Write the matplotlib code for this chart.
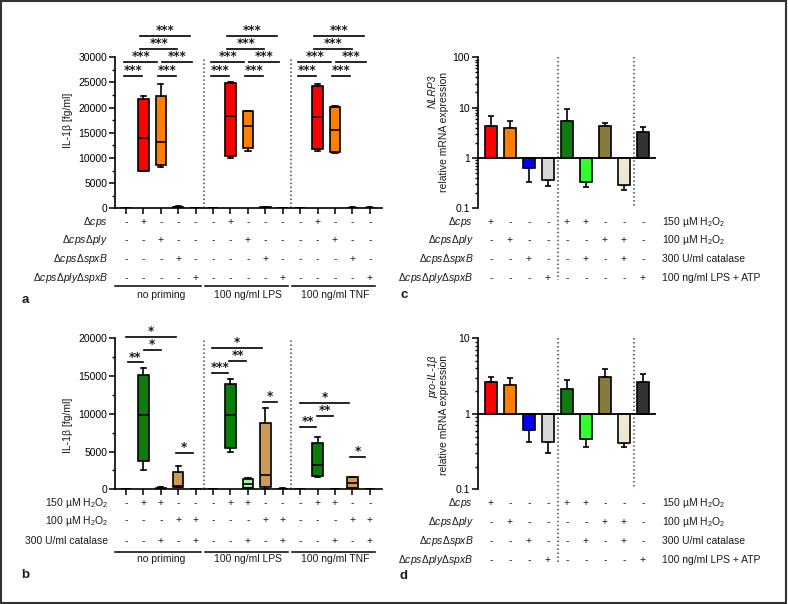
import matplotlib
matplotlib.use('Agg')
import matplotlib.pyplot as plt
from matplotlib import transforms
from matplotlib.patches import Rectangle

plt.rcParams['font.family'] = ['Liberation Sans', 'DejaVu Sans']
plt.rcParams['mathtext.fontset'] = 'custom'
plt.rcParams['mathtext.rm'] = 'Liberation Sans'
plt.rcParams['mathtext.it'] = 'Liberation Sans:italic'
plt.rcParams['font.size'] = 7.5
plt.rcParams['text.color'] = '#1a1a1a'

W, H = 788, 604
FS = 7.5

# ---- panel a: IL-1beta, strains x priming (box plots) ----
a_q1 = [0, 7500, 8700, 100, 0, 0, 10400, 12000, 50, 0, 0, 11800, 11100, 50, 50]
a_med = [0, 13900, 13100, 200, 0, 0, 18300, 16400, 100, 0, 0, 18200, 15600, 100, 100]
a_q3 = [100, 21800, 22400, 350, 100, 50, 24900, 19300, 200, 50, 50, 24200, 20200, 150, 150]
a_lo = [0, 7500, 8200, 0, 0, 0, 9900, 11400, 0, 0, 0, 11400, 10900, 0, 0]
a_hi = [150, 22300, 24700, 500, 150, 100, 25100, 19400, 300, 100, 100, 24600, 20400, 200, 200]
a_colors = ['white', '#FF0000', '#FF8000', 'black', 'white'] * 3
a_rows = ['-+---' * 3, '--+--' * 3, '---+-' * 3, '----+' * 3]
a_row_labels = [r'$\Delta\mathit{cps}$', r'$\Delta\mathit{cps}\Delta\mathit{ply}$',
                r'$\Delta\mathit{cps}\Delta\mathit{spxB}$',
                r'$\Delta\mathit{cps}\Delta\mathit{ply}\Delta\mathit{spxB}$']
groups = ['no priming', '100 ng/ml LPS', '100 ng/ml TNF']
# significance bars (start, end, height, label), same in each priming group
a_sig = [(-0.1, 0.9, 26350, '***'), (1.85, 2.85, 26350, '***'),
         (-0.1, 1.8, 29000, '***'), (2.05, 3.8, 29000, '***'),
         (0.8, 2.95, 31650, '***'), (0.8, 3.65, 34300, '***')]

# ---- panel b: IL-1beta, H2O2 / catalase ----
b_q1 = [0, 3700, 50, 350, 0, 0, 5500, 130, 260, 0, 0, 1760, 0, 130, 0]
b_med = [0, 9900, 100, 450, 0, 0, 9800, 700, 1850, 0, 0, 3180, 0, 790, 0]
b_q3 = [80, 15100, 200, 2330, 50, 50, 14000, 1320, 8740, 80, 80, 6170, 50, 1590, 50]
b_lo = [0, 2500, 0, 300, 0, 0, 4900, 130, 0, 0, 0, 1590, 0, 130, 0]
b_hi = [100, 16100, 300, 3090, 80, 80, 14600, 1460, 10730, 120, 100, 6930, 80, 1650, 80]
b_colors = ['white', '#0A7D0A', '#A8F0A8', '#CF9A58', 'white'] * 3
b_rows = ['-++--' * 3, '---++' * 3, '--+-+' * 3]
b_row_labels = [r'150 µM H$_2$O$_2$', r'100 µM H$_2$O$_2$', '300 U/ml catalase']
b_sig = [(0.1, 0.96, 16800, '**'), (1.03, 1.99, 18450, '*'), (0.0, 2.87, 20150, '*'),
         (2.87, 3.82, 4770, '*'),
         (4.93, 5.87, 15360, '***'), (5.93, 6.88, 17000, '**'), (4.93, 7.82, 18760, '*'),
         (7.88, 8.7, 11520, '*'),
         (9.98, 10.9, 8210, '**'), (10.98, 11.89, 9710, '**'), (9.98, 12.81, 11390, '*'),
         (12.85, 13.75, 4240, '*')]

# ---- panels c, d: relative mRNA expression ----
bar_colors = ['#FF0000', '#FF8000', '#0000FF', '#D8D8D8', '#127A12', '#30FF30',
              '#877B3C', '#EFE9D3', '#333333']
c_vals = [4.4, 4.0, 0.64, 0.36, 5.4, 0.33, 4.3, 0.29, 3.3]
c_err_end = [6.9, 5.5, 0.34, 0.28, 9.4, 0.26, 4.96, 0.235, 4.1]
d_vals = [2.6, 2.44, 0.615, 0.42, 2.14, 0.47, 3.11, 0.41, 2.6]
d_err_end = [3.1, 2.96, 0.42, 0.30, 2.81, 0.36, 3.9, 0.36, 3.4]
cd_rows = ['+---++---', '-+----++-', '--+--+-+-', '---+----+']
cd_left_labels = a_row_labels
cd_right_labels = [r'150 µM H$_2$O$_2$', r'100 µM H$_2$O$_2$', '300 U/ml catalase',
                   '100 ng/ml LPS + ATP']

fig = plt.figure(figsize=(W / 100, H / 100), dpi=100)


def px_axes(left, right, top, bottom):
    return fig.add_axes([left / W, 1 - bottom / H, (right - left) / W, (bottom - top) / H])


def fy(py):
    return 1 - py / H


def style_axes(ax):
    for s in ['top', 'right']:
        ax.spines[s].set_visible(False)
    for s in ['left', 'bottom']:
        ax.spines[s].set_linewidth(1.2)
    ax.tick_params(which='major', length=4, width=1.1, pad=1.5, labelsize=FS)
    ax.tick_params(which='minor', length=2.5, width=1)


def box_panel(ax, q1, med, q3, lo, hi, colors, ymax, step):
    stats = [dict(q1=a, med=m, q3=b, whislo=l, whishi=h, fliers=[])
             for a, m, b, l, h in zip(q1, med, q3, lo, hi)]
    bp = ax.bxp(stats, positions=range(len(stats)), widths=0.6, capwidths=0.3,
                patch_artist=True, showfliers=False, manage_ticks=False,
                boxprops=dict(linewidth=1.2, edgecolor='black'),
                medianprops=dict(color='black', linewidth=1.2),
                whiskerprops=dict(color='black', linewidth=1.2),
                capprops=dict(color='black', linewidth=1.2))
    for patch, c in zip(bp['boxes'], colors):
        patch.set_facecolor(c)
    ax.set_xlim(-0.63, 14.7)
    ax.set_ylim(0, ymax)
    ax.set_yticks(range(0, ymax + 1, step))
    ax.set_yticks(range(0, ymax + 1, step // 2), minor=True)
    ax.set_xticks(range(15))
    ax.set_xticklabels([])
    ax.tick_params(axis='x', length=3)
    style_axes(ax)
    for xv in [4.5, 9.5]:
        ax.axvline(xv, color='#444444', linestyle=(0, (1, 1.6)), linewidth=1.1)


def sig_bars(ax, sig):
    for x1, x2, y, lab in sig:
        ax.plot([x1, x2], [y, y], color='black', linewidth=1.2, clip_on=False)
        ax.annotate(lab, ((x1 + x2) / 2, y), xytext=(0, 1.4), textcoords='offset points',
                    ha='center', va='baseline', fontsize=8.5, family='DejaVu Sans',
                    fontweight='bold', annotation_clip=False)


def table(ax, rows, labels, ys, label_x):
    tr = transforms.blended_transform_factory(ax.transData, fig.transFigure)
    for row, lab, y in zip(rows, labels, ys):
        fig.text(label_x / W, fy(y), lab, ha='right', va='center', fontsize=FS)
        for i, s in enumerate(row):
            ax.text(i, fy(y), s, transform=tr, ha='center', va='center', fontsize=FS)
    return tr


def group_lines(ax, y_line, y_text):
    tr = transforms.blended_transform_factory(ax.transData, fig.transFigure)
    for k, name in enumerate(groups):
        x1 = -0.63 if k == 0 else 5 * k - 0.45
        ax.plot([x1, 5 * k + 4.3], [fy(y_line)] * 2, transform=tr, color='black',
                linewidth=1.1, clip_on=False)
        ax.text(5 * k + 2, fy(y_text), name, transform=tr, ha='center', va='center',
                fontsize=FS)


# panel a
ax_a = px_axes(115, 382, 57.3, 208.3)
box_panel(ax_a, a_q1, a_med, a_q3, a_lo, a_hi, a_colors, 30000, 5000)
for k in range(3):
    sig_bars(ax_a, [(x1 + 5 * k, x2 + 5 * k, y, lab) for x1, x2, y, lab in a_sig])
table(ax_a, a_rows, a_row_labels, [221.7, 240.3, 259, 277.7], 108)
group_lines(ax_a, 286, 295)
fig.text(68 / W, fy(120), 'IL-1β [fg/ml]', rotation=90, ha='center', va='center', fontsize=FS)

# panel b
ax_b = px_axes(115, 382, 338.3, 489.3)
box_panel(ax_b, b_q1, b_med, b_q3, b_lo, b_hi, b_colors, 20000, 5000)
sig_bars(ax_b, b_sig)
table(ax_b, b_rows, b_row_labels, [503.3, 520.5, 541], 108)
group_lines(ax_b, 551.7, 559.5)
fig.text(68 / W, fy(425), 'IL-1β [fg/ml]', rotation=90, ha='center', va='center', fontsize=FS)


def bar_panel(ax, vals, err_end, ymin, ymax, top_px, bottom_px, rows_y):
    x = list(range(len(vals)))
    heights = [v - 1 for v in vals]
    ax.set_yscale('log')
    ax.bar(x, heights, bottom=1, width=0.62, color=bar_colors, edgecolor='black',
           linewidth=1.2, zorder=3)
    lower = [v - e if v < 1 else 0 for v, e in zip(vals, err_end)]
    upper = [e - v if v >= 1 else 0 for v, e in zip(vals, err_end)]
    ax.errorbar(x, vals, yerr=[lower, upper], fmt='none', ecolor='black',
                elinewidth=1.2, capsize=2.5, capthick=1.2, zorder=2)
    ax.axhline(1, color='black', linewidth=1.3, zorder=4)
    ax.set_xlim(-0.7, 8.7)
    ax.set_ylim(ymin, ymax)
    ticks = [t for t in [0.1, 1, 10, 100] if ymin <= t <= ymax]
    ax.set_yticks(ticks)
    ax.set_yticklabels([('%g' % t) for t in ticks])
    ax.set_xticks([])
    ax.spines['bottom'].set_visible(False)
    style_axes(ax)
    tr = table(ax, cd_rows, cd_left_labels, rows_y, 473.3)
    for lab, y in zip(cd_right_labels, rows_y):
        fig.text(661.7 / W, fy(y), lab, ha='left', va='center', fontsize=FS)
    ax.plot([3.5, 3.5], [fy(top_px), fy(rows_y[-1] + 2)], transform=tr, color='#444444',
            linestyle=(0, (1, 1.6)), linewidth=1.1, clip_on=False)
    ax.plot([7.5, 7.5], [fy(top_px), fy(bottom_px)], transform=tr, color='#444444',
            linestyle=(0, (1, 1.6)), linewidth=1.1, clip_on=False)


ax_c = px_axes(477.7, 656.3, 57.3, 208.3)
bar_panel(ax_c, c_vals, c_err_end, 0.1, 100, 57.3, 208.3, [221.7, 240, 259, 278.3])
fig.text(433 / W, fy(91), 'NLRP3', style='italic', rotation=90, ha='center', va='center')
fig.text(444 / W, fy(132), 'relative mRNA expression', rotation=90, ha='center', va='center')

ax_d = px_axes(477.7, 656.3, 338.3, 489.3)
bar_panel(ax_d, d_vals, d_err_end, 0.1, 10, 338.3, 489.3, [503.3, 521.7, 540.7, 560])
fig.text(433 / W, fy(377), 'pro-IL-1β', style='italic', rotation=90, ha='center', va='center')
fig.text(444 / W, fy(415), 'relative mRNA expression', rotation=90, ha='center', va='center')

# panel letters
for lab, x, y in [('a', 25, 300), ('b', 25, 575), ('c', 404, 295), ('d', 404, 576)]:
    fig.text(x / W, fy(y), lab, fontsize=9.5, fontweight='bold', ha='center', va='center')

fig.patches.append(Rectangle((0.001, 0.002), 0.997, 0.996, transform=fig.transFigure,
                             fill=False, edgecolor='#333333', linewidth=1.5))

fig.savefig('out.png', dpi=100)
